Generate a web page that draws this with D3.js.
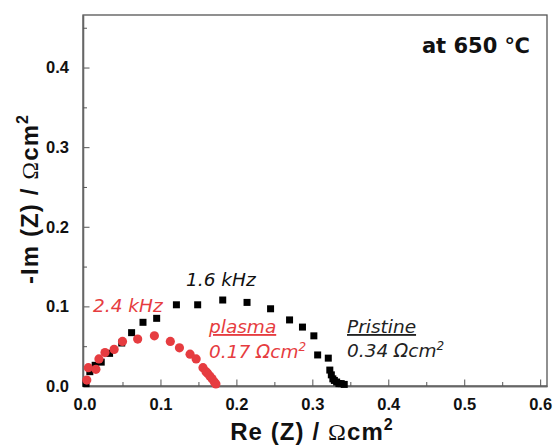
<!DOCTYPE html>
<html>
<head>
<meta charset="utf-8">
<script src="https://cdn.jsdelivr.net/npm/d3@7"></script>
<style>
  html, body { margin: 0; padding: 0; background: #fff; }
  svg { display: block; }
</style>
</head>
<body>
<div class="canva"></div>
<script>
// Nyquist plot at 650 C, pristine vs plasma treated

const pristineRe = [0.002, 0.007, 0.014, 0.022, 0.033, 0.049, 0.062, 0.077, 0.095, 0.121, 0.149, 0.182,
                    0.214, 0.245, 0.270, 0.287, 0.302, 0.307, 0.321, 0.323, 0.325, 0.327, 0.329, 0.332, 0.335, 0.338, 0.342];
const pristineIm = [0.003, 0.018, 0.026, 0.030, 0.041, 0.054, 0.067, 0.080, 0.085, 0.102, 0.102, 0.108,
                    0.105, 0.097, 0.083, 0.074, 0.063, 0.039, 0.035, 0.020, 0.014, 0.009, 0.007, 0.005, 0.003, 0.003, 0.002];

const plasmaRe = [0.003, 0.005, 0.015, 0.019, 0.027, 0.039, 0.050, 0.070, 0.092, 0.113, 0.125, 0.139,
                  0.147, 0.156, 0.160, 0.162, 0.165, 0.168, 0.171, 0.173];
const plasmaIm = [0.0075, 0.023, 0.021, 0.034, 0.042, 0.046, 0.056, 0.059, 0.063, 0.056, 0.048, 0.040,
                  0.034, 0.023, 0.018, 0.016, 0.0125, 0.009, 0.005, 0.0025];

const xMajor = [0.0, 0.1, 0.2, 0.3, 0.4, 0.5, 0.6];
const xMinor = [0.05, 0.15, 0.25, 0.35, 0.45, 0.55];
const yMajor = [0.0, 0.1, 0.2, 0.3, 0.4];
const yMinor = [0.05, 0.15, 0.25, 0.35, 0.45];

const width = 557, height = 448;
const pLeft = 83, pRight = 547, pTop = 15, pBottom = 386;
const red = '#e63c40';

const svg = d3.select('.canva').append('svg')
  .attr('width', width)
  .attr('height', height);

const x = d3.scaleLinear().domain([-0.002, 0.609]).range([pLeft, pRight]);
const y = d3.scaleLinear().domain([0, 0.466]).range([pBottom, pTop]);

// frame
svg.append('rect')
  .attr('x', pLeft).attr('y', pTop)
  .attr('width', pRight - pLeft).attr('height', pBottom - pTop)
  .attr('fill', 'none').attr('stroke', '#555').attr('stroke-width', 1.3);

// axes (ticks inward)
const fmt = d3.format('.1f');
svg.append('g').attr('transform', `translate(0,${pBottom})`)
  .call(d3.axisBottom(x).tickValues(xMajor).tickFormat(fmt).tickSizeInner(-6.5).tickSizeOuter(0).tickPadding(12));
svg.append('g').attr('transform', `translate(0,${pBottom})`)
  .call(d3.axisBottom(x).tickValues(xMinor).tickFormat('').tickSizeInner(-4).tickSizeOuter(0));
svg.append('g').attr('transform', `translate(${pLeft},0)`)
  .call(d3.axisLeft(y).tickValues(yMajor).tickFormat(fmt).tickSizeInner(-6.5).tickSizeOuter(0).tickPadding(14));
svg.append('g').attr('transform', `translate(${pLeft},0)`)
  .call(d3.axisLeft(y).tickValues(yMinor).tickFormat('').tickSizeInner(-4).tickSizeOuter(0));

svg.selectAll('.domain').attr('stroke', '#666').attr('stroke-width', 1.3);
svg.selectAll('.tick line').attr('stroke', '#555').attr('stroke-width', 1);
svg.selectAll('.tick text')
  .attr('fill', '#111')
  .style('font-family', '"Liberation Sans", Arial, sans-serif')
  .style('font-weight', 'bold')
  .style('font-size', '16.5px');

// pristine: black squares
const sq = 7;
svg.append('g').selectAll('rect')
  .data(d3.zip(pristineRe, pristineIm))
  .enter()
  .append('rect')
  .attr('x', d => x(d[0]) - sq / 2)
  .attr('y', d => y(d[1]) - sq / 2)
  .attr('width', sq).attr('height', sq)
  .attr('fill', '#000');

// plasma: red circles
svg.append('g').selectAll('circle')
  .data(d3.zip(plasmaRe, plasmaIm))
  .enter()
  .append('circle')
  .attr('cx', d => x(d[0]))
  .attr('cy', d => y(d[1]))
  .attr('r', 4.6)
  .attr('fill', red);

// annotations
const noteFont = '"DejaVu Sans", sans-serif';
const note = (txt, px, py, col, underline) => {
  const t = svg.append('text')
    .attr('x', px).attr('y', py)
    .attr('fill', col)
    .style('font-family', noteFont)
    .style('font-style', 'italic')
    .style('font-size', '18.5px')
    .text(txt);
  if (underline) t.style('text-decoration', 'underline');
  return t;
};
const noteR = (val, px, py, col) => {
  const t = svg.append('text')
    .attr('x', px).attr('y', py)
    .attr('fill', col)
    .style('font-family', noteFont)
    .style('font-style', 'italic')
    .style('font-size', '18.5px');
  t.append('tspan').text(val + ' \u03A9cm');
  t.append('tspan').attr('dy', -7).style('font-size', '12px').text('2');
};

note('2.4 kHz', 93, 312, red);
note('1.6 kHz', 186, 286, '#111');
note('plasma', 209, 333, red, true);
noteR('0.17', 209, 358, red);
note('Pristine', 347, 333, '#222', true);
noteR('0.34', 347, 357, '#222');

svg.append('text')
  .attr('x', 530).attr('y', 53)
  .attr('text-anchor', 'end')
  .attr('fill', '#111')
  .style('font-family', '"DejaVu Sans", sans-serif')
  .style('font-weight', 'bold')
  .style('font-size', '21px')
  .text('at 650 \u2103');

// axis titles
const title = (g) => {
  g.attr('fill', '#111')
    .style('font-family', '"Liberation Sans", Arial, sans-serif')
    .style('font-weight', 'bold')
    .style('font-size', '24px')
    .style('letter-spacing', '1.1px')
    .attr('text-anchor', 'middle');
};
const xt = svg.append('text').attr('x', 312).attr('y', 440).call(title);
xt.append('tspan').text('Re (Z) / ');
xt.append('tspan').style('font-weight', 'normal').style('font-family', '"Liberation Serif", serif').text('\u03A9');
xt.append('tspan').text('cm');
xt.append('tspan').attr('dy', -10).style('font-size', '16px').text('2');

const yt = svg.append('text').attr('transform', 'translate(38,199) rotate(-90)').call(title);
yt.append('tspan').text('-Im (Z) / ');
yt.append('tspan').style('font-weight', 'normal').style('font-family', '"Liberation Serif", serif').text('\u03A9');
yt.append('tspan').text('cm');
yt.append('tspan').attr('dy', -10).style('font-size', '16px').text('2');
</script>
</body>
</html>
